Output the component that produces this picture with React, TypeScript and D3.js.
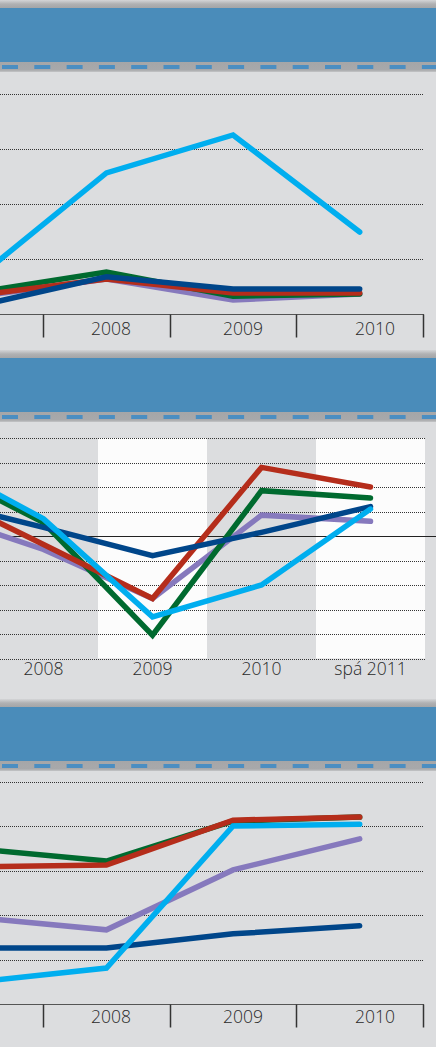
import React from "react";
import { scaleBand, scaleLinear, scalePoint, line, range } from "d3";

// categories
const years = ["2007", "2008", "2009", "2010"];
const years2 = ["2007", "2008", "2009", "2010", "spá 2011"];

// panel 1 values
const p1LightBlue = [13.8, 51.3, 65.1, 29.8];
const p1Purple = [6.5, 12.7, 5.1, 7.3];
const p1Green = [8.0, 15.3, 6.5, 7.3];
const p1Red = [6.9, 12.7, 7.6, 7.6];
const p1Navy = [3.1, 13.5, 9.1, 9.1];

// panel 2 values
const p2LightBlue = [6.2, 1.4, -6.6, -4.0, 2.2];
const p2Purple = [1.9, -1.1, -5.1, 1.7, 1.2];
const p2Green = [5.6, 1.1, -8.1, 3.7, 3.1];
const p2Red = [3.7, -0.7, -5.1, 5.6, 4.0];
const p2Navy = [2.9, 0.7, -1.6, 0.3, 2.4];

// panel 3 values
const p3LightBlue = [5.0, 8.1, 40.1, 40.5];
const p3Purple = [19.4, 16.7, 30.2, 37.2];
const p3Green = [34.9, 32.2, 41.2, 42.1];
const p3Red = [30.9, 31.3, 41.4, 42.1];
const p3Navy = [12.6, 12.6, 15.8, 17.6];

// y gridlines
const p1Grid = [20, 40, 60, 80];
const p2Grid = [-10, -8, -6, -4, -2, 2, 4, 6, 8];
const p3Grid = [10, 20, 30, 40, 50];

const C = {
  lightBlue: "#00aeef",
  purple: "#8679bd",
  green: "#006a2f",
  red: "#b52d1b",
  navy: "#00468a",
};

const BG = "#dcdddf";
const HEADER = "#4a8cba";
const font = "'Open Sans', 'DejaVu Sans', sans-serif";

function Header({ top }: { top: number }) {
  const dashes = range(14).map((k) => 2 + k * 32.3);
  return (
    <g>
      <rect x={0} y={top - 8} width={436} height={8} fill="url(#shadow)" />
      <rect x={0} y={top} width={436} height={54} fill={HEADER} />
      <rect x={0} y={top + 54} width={436} height={10} fill="url(#band)" />
      {dashes.map((x, i) => (
        <rect key={i} x={x} y={top + 57} width={16} height={4} fill="#4b8ec2" />
      ))}
    </g>
  );
}

function Lines({ series, x, y }: any) {
  const gen = line<number>()
    .x((d, i) => x(i))
    .y((d) => y(d));
  return (
    <g>
      {series.map((s: any, i: number) => (
        <path
          key={i}
          d={gen(s.values) || ""}
          fill="none"
          stroke={s.color}
          strokeWidth={5.5}
          strokeLinejoin="miter"
          strokeLinecap="round"
        />
      ))}
    </g>
  );
}

function Label({ x, y, children }: any) {
  return (
    <text x={x} y={y} textAnchor="middle" fontFamily={font} fontWeight={300} fontSize={17.5} fill="#2a2a2a">
      {children}
    </text>
  );
}

function YearPanel({ series, grid, yRange, yMax, labelY }: any) {
  const x = scaleBand<string>().domain(years).range([-83.5, 423]);
  const cx = (i: number) => (x(years[i]) as number) + x.bandwidth() / 2;
  const labelX = scalePoint<string>().domain(years).range([-21, 375]);
  const y = scaleLinear().domain([0, yMax]).range(yRange);
  const base = Math.round(y(0)) + 0.5;
  const tickXs = years.slice(1).map((c) => Math.round(x(c) as number) + 0.5).concat([423.5]);
  return (
    <g>
      {grid.map((v: number) => (
        <line
          key={v}
          x1={0}
          x2={423}
          y1={Math.round(y(v)) + 0.5}
          y2={Math.round(y(v)) + 0.5}
          stroke="#333"
          strokeWidth={1}
          strokeDasharray="1 1"
        />
      ))}
      <line x1={0} x2={424} y1={base} y2={base} stroke="#555" strokeWidth={1} />
      {tickXs.map((tx, i) => (
        <line key={i} x1={tx} x2={tx} y1={base} y2={base + 23} stroke="#333" strokeWidth={1.5} />
      ))}
      <Lines series={series} x={cx} y={y} />
      {years
        .filter((c) => (labelX(c) as number) > 0)
        .map((c) => (
          <Label key={c} x={labelX(c)} y={labelY}>
            {c}
          </Label>
        ))}
    </g>
  );
}

function GrowthPanel({ series }: any) {
  const x = scaleBand<string>().domain(years2).range([-120, 425]);
  const cx = (i: number) => (x(years2[i]) as number) + x.bandwidth() / 2;
  const y = scaleLinear().domain([-10, 8]).range([658.5, 438]);
  return (
    <g>
      {years2.map((c, i) =>
        i % 2 === 0 ? (
          <rect
            key={c}
            x={x(c) as number}
            y={y(8)}
            width={x.bandwidth()}
            height={y(-10) - y(8)}
            fill="#fcfcfc"
          />
        ) : null
      )}
      {p2Grid.map((v) => (
        <line
          key={v}
          x1={0}
          x2={425}
          y1={Math.round(y(v)) + 0.5}
          y2={Math.round(y(v)) + 0.5}
          stroke="#333"
          strokeWidth={1}
          strokeDasharray="1 1"
        />
      ))}
      <line x1={0} x2={436} y1={Math.round(y(0)) + 0.5} y2={Math.round(y(0)) + 0.5} stroke="#222" strokeWidth={1} />
      <Lines series={series} x={cx} y={y} />
      {years2
        .filter((c, i) => cx(i) > 0)
        .map((c) => (
          <Label key={c} x={cx(years2.indexOf(c))} y={675}>
            {c}
          </Label>
        ))}
    </g>
  );
}

export default function App() {
  const s1 = [
    { color: C.purple, values: p1Purple },
    { color: C.green, values: p1Green },
    { color: C.red, values: p1Red },
    { color: C.lightBlue, values: p1LightBlue },
    { color: C.navy, values: p1Navy },
  ];
  const s2 = [
    { color: C.purple, values: p2Purple },
    { color: C.green, values: p2Green },
    { color: C.red, values: p2Red },
    { color: C.navy, values: p2Navy },
    { color: C.lightBlue, values: p2LightBlue },
  ];
  const s3 = [
    { color: C.purple, values: p3Purple },
    { color: C.green, values: p3Green },
    { color: C.red, values: p3Red },
    { color: C.navy, values: p3Navy },
    { color: C.lightBlue, values: p3LightBlue },
  ];
  return (
    <svg
      width={436}
      height={1047}
      style={{ position: "absolute", left: 0, top: 0, display: "block" }}
    >
      <defs>
        <linearGradient id="shadow" x1="0" y1="0" x2="0" y2="1">
          <stop offset="0" stopColor="#d4d5d7" />
          <stop offset="0.5" stopColor="#b0b1b3" />
          <stop offset="1" stopColor="#a4a5a7" />
        </linearGradient>
        <linearGradient id="band" x1="0" y1="0" x2="0" y2="1">
          <stop offset="0" stopColor="#a5a6a8" />
          <stop offset="0.8" stopColor="#a8a9ab" />
          <stop offset="1" stopColor="#c4c5c7" />
        </linearGradient>
      </defs>
      <rect width={436} height={1047} fill={BG} />
      <Header top={8} />
      <YearPanel series={s1} grid={p1Grid} yRange={[314, 94]} yMax={80} labelY={335} />
      <Header top={358} />
      <GrowthPanel series={s2} />
      <Header top={707} />
      <YearPanel series={s3} grid={p3Grid} yRange={[1004, 782]} yMax={50} labelY={1023} />
    </svg>
  );
}
